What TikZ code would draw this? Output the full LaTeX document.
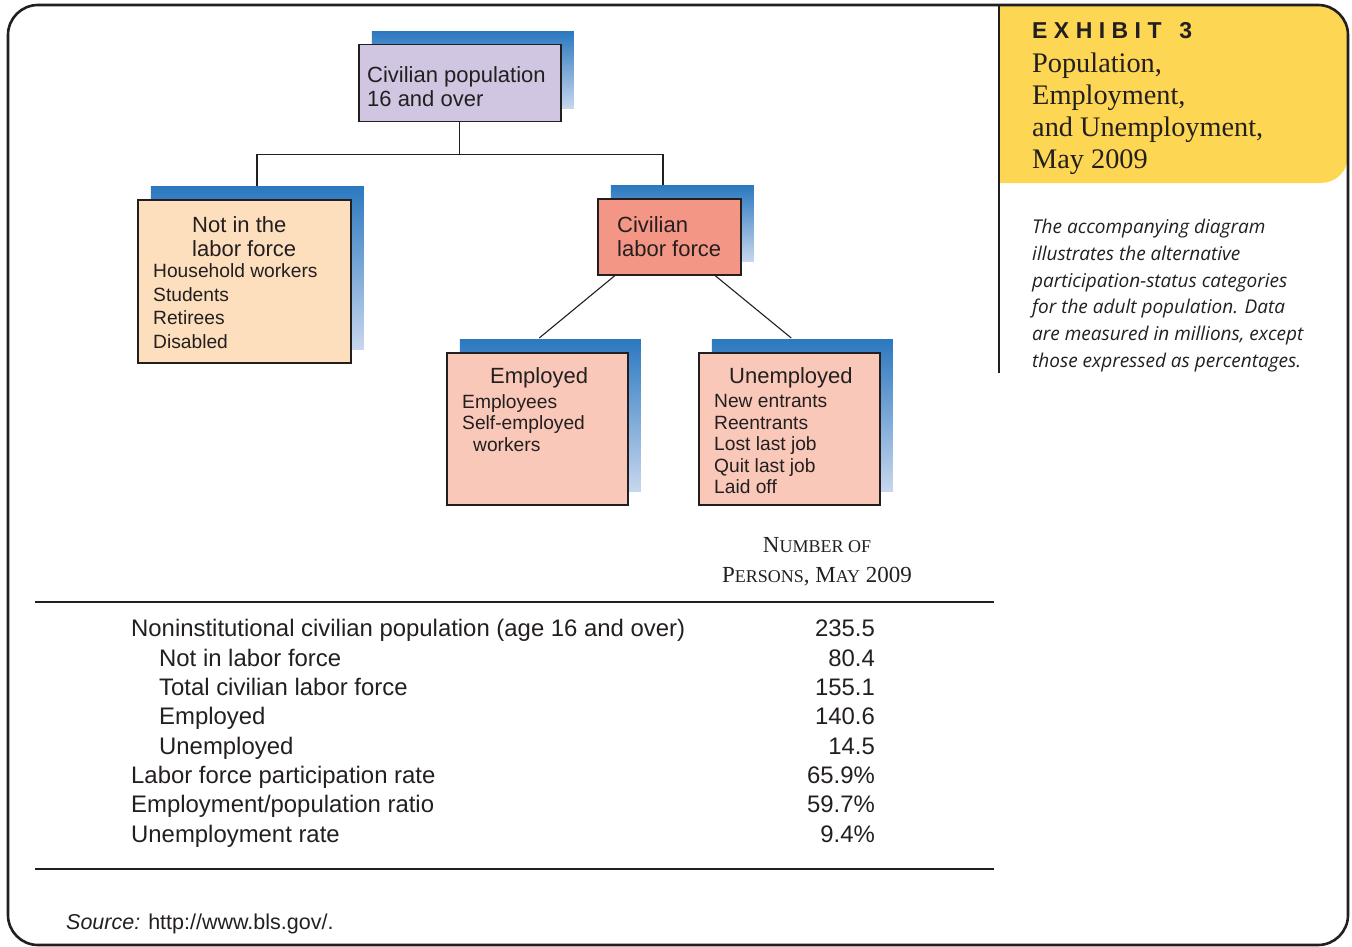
\documentclass[tikz,border=0pt]{standalone}
\usepackage{fontspec}
\usepackage{tikz}
\usetikzlibrary{calc,backgrounds}
\newfontfamily\labfont{Liberation Sans}
\newfontfamily\serfont{Liberation Serif}
\newfontfamily\exhfont[LetterSpace=28]{Liberation Sans}
\newfontfamily\notefont{Open Sans}
\definecolor{ink}{RGB}{35,31,32}
\definecolor{popfill}{RGB}{208,198,225}
\definecolor{nilffill}{RGB}{253,223,190}
\definecolor{clffill}{RGB}{244,150,133}
\definecolor{empfill}{RGB}{249,200,185}
\definecolor{shadetop}{RGB}{44,121,192}
\definecolor{shadebot}{RGB}{200,215,238}
\definecolor{exhibit}{RGB}{253,214,84}
\tikzset{
    catbox/.style={draw=ink, line width=1.5pt, inner sep=0pt, anchor=north west,
            preaction={draw=none, top color=shadetop, bottom color=shadebot,
                    transform canvas={shift={(13pt,13pt)}}}},
    link/.style={draw=ink, line width=1.1pt},
    rule/.style={draw=ink, line width=1.4pt},
    frame/.style={draw=ink, line width=2.6pt, rounded corners=30pt},
    boxhead/.style={anchor=north west, inner sep=0pt, align=left, text=ink,
            font=\labfont\fontsize{22}{24}\selectfont},
    boxitem/.style={anchor=north west, inner sep=0pt, align=left, text=ink,
            font=\labfont\fontsize{19.2}{#1}\selectfont},
    rowlabel/.style={anchor=base west, inner sep=0pt, text=ink,
            font=\labfont\fontsize{23.9}{27}\selectfont},
    rowvalue/.style={anchor=base east, inner sep=0pt, text=ink,
            font=\labfont\fontsize{23.9}{27}\selectfont},
}

\begin{document}
\begin{tikzpicture}[x=1pt, y=-1pt]
    \useasboundingbox (0,0) rectangle (1352,947);
    %exhibit panel and frame
    \begin{scope}
        \clip (1000,0) rectangle (1352,947);
        \clip[rounded corners=30pt] (8,5) rectangle (1348,945);
        \fill[exhibit, rounded corners=27pt] (960,-20) rectangle (1348,183);
    \end{scope}
    \draw[frame] (8,5) rectangle (1348,945);
    \draw[ink, line width=2pt] (999,5) -- (999,373);
    \node[anchor=base west, inner sep=0pt, text=ink, font=\exhfont\bfseries\fontsize{23}{23}\selectfont] (exhnum) at (1032,39) {EXHIBIT\hspace{5pt} 3};
    \node[anchor=north west, inner sep=0pt, align=left, text=ink, font=\serfont\fontsize{28.3}{32}\selectfont] (exhtitle) at (1032,53) {Population,\\Employment,\\and Unemployment,\\May 2009};
    \node[anchor=north west, inner sep=0pt, align=left, text=ink, font=\notefont\itshape\fontsize{19}{26.7}\selectfont] (exhnote) at (1032,219) {The accompanying diagram\\illustrates the alternative\\participation-status categories\\for the adult population. Data\\are measured in millions, except\\those expressed as percentages.};

    %category boxes
    \node[catbox, fill=popfill, minimum width=202pt, minimum height=77pt] (pop) at (358,44) {};
    \node[catbox, fill=nilffill, minimum width=213pt, minimum height=163pt] (nilf) at (137,199) {};
    \node[catbox, fill=clffill, minimum width=143pt, minimum height=76pt] (clf) at (597,198) {};
    \node[catbox, fill=empfill, minimum width=181pt, minimum height=152pt] (emp) at (446,352) {};
    \node[catbox, fill=empfill, minimum width=181pt, minimum height=152pt] (unemp) at (698,352) {};
    %connectors behind the boxes
    \begin{scope}[on background layer]
        \draw[link] (pop.south) -- ++(0,32) coordinate (fork);
        \draw[link] ($(nilf.north west)+(120,0)$) |- (fork) -| ($(clf.north west)+(66,0)$);
        \draw[link] ($(clf.south west)+(18,0)$) -- ($(emp.north)+(2,-14)$);
        \draw[link] ($(clf.south west)+(118,0)$) -- ($(unemp.north)+(2,-14)$);
    \end{scope}
    %box labels
    \node[boxhead] (poptext) at (367,66.3) {Civilian population\\16 and over};
    \node[boxhead] (nilfhead) at (192,216.2) {Not in the\\labor force};
    \node[boxitem=23.7] (nilfitems) at (153,263.3) {Household workers\\Students\\Retirees\\Disabled};
    \node[boxhead] (clftext) at (617,216.2) {Civilian\\labor force};
    \node[boxhead] (emphead) at (490,367.2) {Employed};
    \node[boxitem=21.5] (empitems) at (462,394.3) {Employees\\Self-employed\\\hspace*{11pt}workers};
    \node[boxhead] (unemphead) at (729,367.2) {Unemployed};
    \node[boxitem=21.5] (unempitems) at (714,394.3) {New entrants\\Reentrants\\Lost last job\\Quit last job\\Laid off};

    %table of numbers
    \node[anchor=base, inner sep=0pt, text=ink, font=\serfont] (colhead) at (817,552) {{\fontsize{23}{24}\selectfont N}{\fontsize{18}{24}\selectfont UMBER OF}};
    \node[anchor=base, inner sep=0pt, text=ink, font=\serfont] (colsub) at (817,582) {{\fontsize{23}{24}\selectfont P}{\fontsize{18}{24}\selectfont ERSONS}{\fontsize{23}{24}\selectfont , M}{\fontsize{18}{24}\selectfont AY}{\fontsize{23}{24}\selectfont{} 2009}};
    \draw[rule] (35,602) -- (994,602);
    \node[rowlabel] (r1) at (131,636) {Noninstitutional civilian population (age 16 and over)};
    \node[rowlabel] (r2) at (159,666) {Not in labor force};
    \node[rowlabel] (r3) at (159,695) {Total civilian labor force};
    \node[rowlabel] (r4) at (159,724) {Employed};
    \node[rowlabel] (r5) at (159,754) {Unemployed};
    \node[rowlabel] (r6) at (131,783) {Labor force participation rate};
    \node[rowlabel] (r7) at (131,812) {Employment/population ratio};
    \node[rowlabel] (r8) at (131,842) {Unemployment rate};
    \node[rowvalue] (v1) at (875,636) {235.5};
    \node[rowvalue] (v2) at (875,666) {80.4};
    \node[rowvalue] (v3) at (875,695) {155.1};
    \node[rowvalue] (v4) at (875,724) {140.6};
    \node[rowvalue] (v5) at (875,754) {14.5};
    \node[rowvalue] (v6) at (875,783) {65.9\%};
    \node[rowvalue] (v7) at (875,812) {59.7\%};
    \node[rowvalue] (v8) at (875,842) {9.4\%};
    \draw[rule] (35,869) -- (994,869);
    %source line
    \node[anchor=base west, inner sep=0pt, text=ink, font=\labfont\fontsize{21.5}{24}\selectfont] (source) at (66,929) {\itshape Source:\upshape{} http://www.bls.gov/.};
\end{tikzpicture}
\end{document}
